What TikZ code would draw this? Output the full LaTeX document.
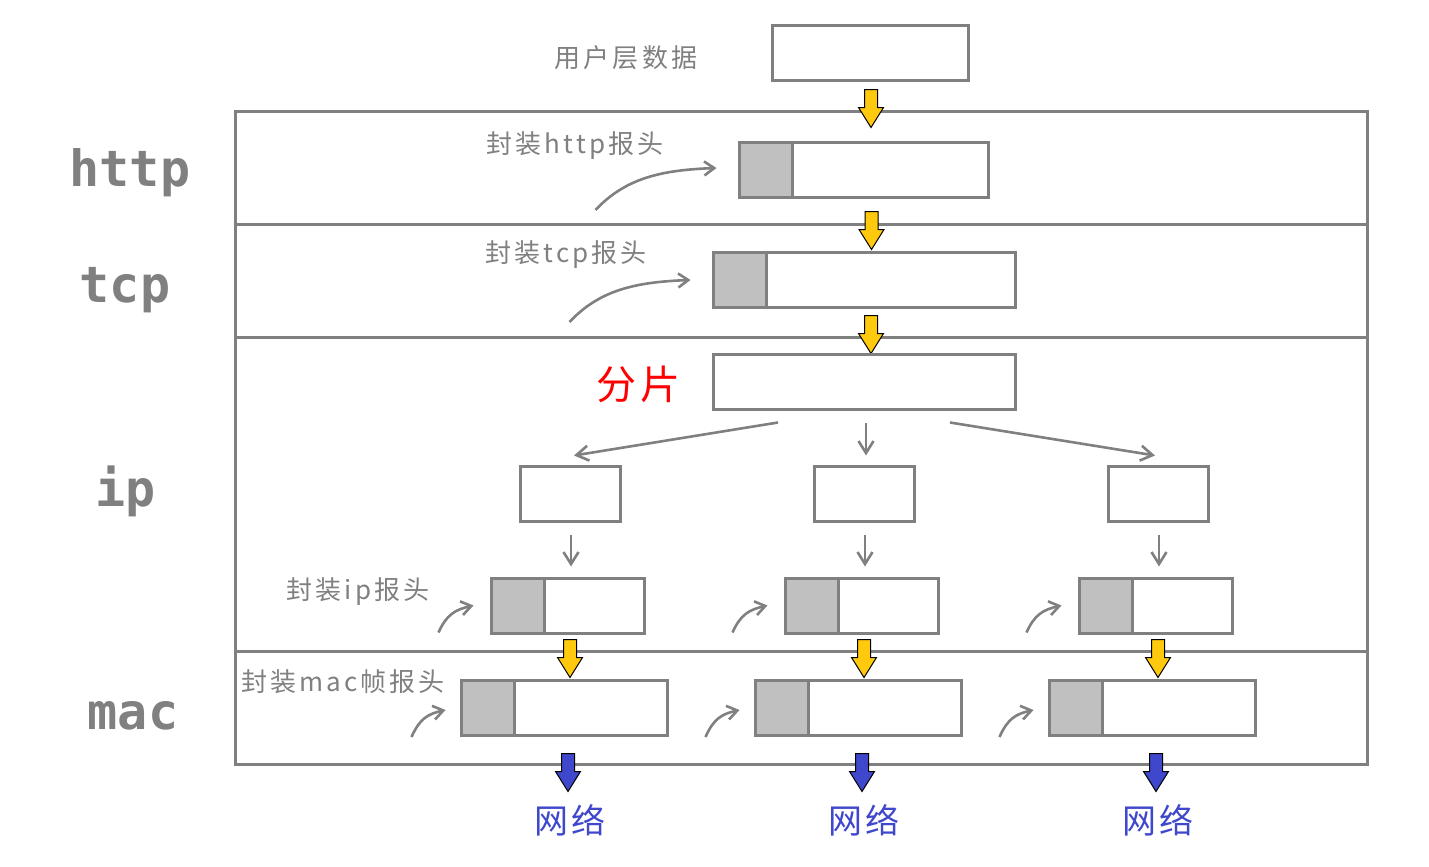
\documentclass[tikz,border=0pt]{standalone}
\usepackage{fontspec}
\usetikzlibrary{calc,arrows.meta}
\newfontfamily\cjklab{Noto Sans CJK SC}[LetterSpace=12]
\newfontfamily\cjkbig{Noto Sans CJK SC}[LetterSpace=10]
\newfontfamily\layerfont{DejaVu Sans Mono}
\definecolor{linegray}{RGB}{128,128,128}
\definecolor{hdrgray}{RGB}{192,192,192}
\definecolor{arrowyellow}{RGB}{255,201,14}
\definecolor{netblue}{RGB}{63,72,204}
% block arrow pointing down, #1 colour, #2 top point
\newcommand\blockdown[2]{%
  \filldraw[fill=#1, draw=black, line width=0.5pt] #2 ++(-6.5,0) -- ++(13,0) -- ++(0,18)
    -- ++(6,0) -- ++(-12.5,20) -- ++(-12.5,-20) -- ++(6,0) -- cycle;}
\tikzset{
  databox/.style={draw=linegray, line width=1.5pt, minimum height=27.5pt, inner sep=0pt},
  hdrbox/.style={databox, path picture={
      \fill[hdrgray] (path picture bounding box.north west) rectangle
        ([xshift=26.5pt]path picture bounding box.south west);
      \draw[linegray, line width=1.5pt] ([xshift=26.5pt]path picture bounding box.north west) --
        ([xshift=26.5pt]path picture bounding box.south west);}},
  frame/.style={draw=linegray, line width=1.5pt},
  thinarrow/.style={draw=linegray, line width=1.3pt, -{Straight Barb[length=6pt,width=7.5pt]}},
  bendarrow/.style={draw=linegray, line width=1.3pt, -{Straight Barb[length=5pt,width=7pt]}},
  steptext/.style={text=linegray, font=\cjklab\fontsize{13}{15}\selectfont},
  layertext/.style={text=linegray, font=\layerfont\bfseries\fontsize{25}{28}\selectfont},
  nettext/.style={text=netblue, font=\cjkbig\fontsize{17}{20}\selectfont}
}
\begin{document}
\begin{tikzpicture}[x=0.5pt, y=-0.5pt]
  \useasboundingbox (0,0) rectangle (1429,867);
  % layers
  \draw[frame] (235,111) rectangle (1367,764);
  \draw[frame] (235,224) -- (1367,224);
  \draw[frame] (235,337) -- (1367,337);
  \draw[frame] (235,651) -- (1367,651);
  \node[layertext] (lhttp) at (130,173) {http};
  \node[layertext] (ltcp) at (125,290) {tcp};
  \node[layertext] (lip) at (126,491) {ip};
  \node[layertext] (lmac) at (133,716) {mac};

  % user data, http, tcp
  \node[databox, minimum width=98pt] (user) at (870,52.5) {};
  \node[steptext] (tuser) at (626,58) {用户层数据};
  \node[hdrbox, minimum width=124.5pt] (http) at (863.5,169.5) {};
  \node[steptext] (thttp) at (575,146) {封装http报头};
  \node[hdrbox, minimum width=151pt] (tcp) at (864,279.5) {};
  \node[steptext] (ttcp) at (566,255) {封装tcp报头};
  \blockdown{arrowyellow}{($(user.south)+(1,8)$)}
  \blockdown{arrowyellow}{($(http.south)+(8,13)$)}
  \blockdown{arrowyellow}{($(tcp.south)+(7,7)$)}
  \draw[bendarrow] ($(http.west)+(-142,40.5)$) .. controls +(30,-32) and +(-55,2) .. ($(http.west)+(-21,-1.5)$);
  \draw[bendarrow] ($(tcp.west)+(-142,42.5)$) .. controls +(30,-32) and +(-55,2) .. ($(tcp.west)+(-21,0.5)$);

  % fragmenting
  \node[databox, minimum width=151pt] (frag) at (864,381.5) {};
  \node[text=red, font=\cjkbig\fontsize{20}{24}\selectfont] (tfrag) at (638,384) {分片};
  \node[steptext] (tip) at (358,592) {封装ip报头};
  \node[steptext] (tmac) at (343,682) {封装mac帧报头};
  \foreach \i/\dx in {1/0, 2/294, 3/588} {
    \node[databox, minimum width=50pt] (s\i) at (570+\dx,493.5) {};
    \node[hdrbox, minimum width=76.5pt] (ip\i) at (567.5+\dx,605.5) {};
    \node[hdrbox, minimum width=103pt] (mac\i) at (564+\dx,707.5) {};
    \node[nettext] (net\i) at (570+\dx,820) {网络};
    \draw[thinarrow, shorten <=6pt, shorten >=5pt] ($(s\i.south)+(1,0)$) -- ($(s\i.south |- ip\i.north)+(1,0)$);
    \blockdown{arrowyellow}{($(ip\i.south)+(2.5,5)$)}
    \blockdown{netblue}{($(mac\i.south)+(4,17)$)}
    \draw[bendarrow] ($(ip\i.west)+(-51,27)$) .. controls +(8,-18) and +(-18,4) .. ($(ip\i.west)+(-16,0)$);
    \draw[bendarrow] ($(mac\i.west)+(-48,29.5)$) .. controls +(8,-18) and +(-18,4) .. ($(mac\i.west)+(-14,2.5)$);
  }
  \draw[thinarrow] ($(frag.south)+(-86,12)$) -- ($(s1.north)+(4,-9)$);
  \draw[thinarrow] ($(frag.south)+(2,12)$) -- ($(s2.north)+(2,-9)$);
  \draw[thinarrow] ($(frag.south)+(86,12)$) -- ($(s3.north)+(-3,-9)$);
\end{tikzpicture}
\end{document}
